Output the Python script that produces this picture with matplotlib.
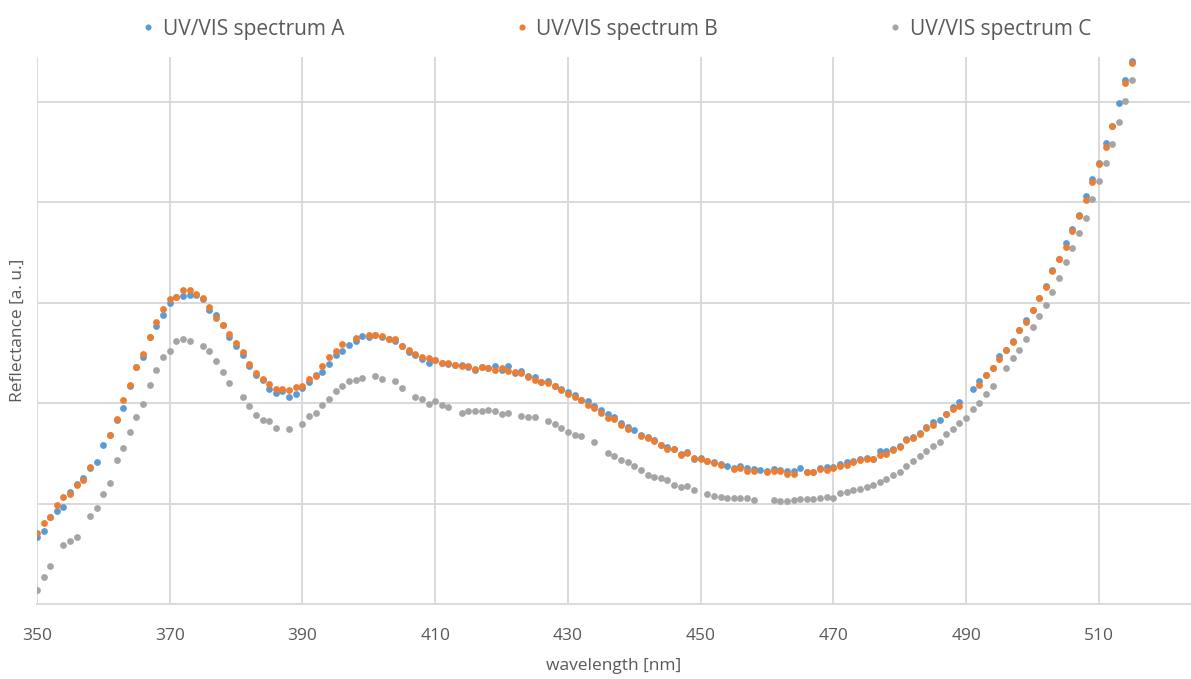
import numpy as np
import matplotlib.pyplot as plt

nan = np.nan
wavelength = np.arange(350, 516)

# spectrum A (blue)
spec_a = [0.67, 0.733, 0.87, 0.932, 0.972, 1.121, 1.197, 1.26, 1.353, 1.413,
          1.582, 1.688, 1.834, 1.95, 2.172, 2.361, 2.461, 2.66, 2.766, 2.882,
          2.995, 3.058, 3.071, 3.081, 3.08, 3.041, 2.925, 2.876, 2.776, 2.66,
          2.567, 2.478, 2.368, 2.279, 2.229, 2.146, 2.106, 2.12, 2.066, 2.096,
          2.15, 2.212, 2.28, 2.308, 2.391, 2.484, 2.524, 2.58, 2.62, 2.673,
          2.66, 2.68, 2.66, 2.634, 2.614, 2.57, 2.514, 2.475, 2.441, 2.401,
          2.43, 2.40, 2.388, 2.384, 2.38, 2.362, 2.335, 2.358, 2.35, 2.368,
          2.326, 2.368, 2.30, 2.32, 2.27, 2.265, 2.212, 2.225, 2.17, 2.14,
          2.11, 2.085, 2.036, 2.023, 1.97, 1.93, 1.897, 1.865, 1.80, 1.765,
          1.731, 1.68, 1.66, 1.63, 1.585, 1.56, 1.545, 1.49, 1.51, 1.446,
          1.46, 1.43, 1.416, 1.40, 1.376, 1.355, 1.375, 1.356, 1.343, 1.333,
          1.325, 1.343, 1.337, 1.327, 1.327, 1.353, 1.32, 1.32, 1.355, 1.366,
          1.366, 1.395, 1.42, 1.43, 1.443, 1.455, 1.45, 1.525, 1.522, 1.54,
          1.57, 1.648, 1.66, 1.70, 1.764, 1.81, 1.837, 1.895, 1.96, 2.013,
          nan, 2.139, 2.216, 2.285, 2.355, 2.468, 2.53, 2.615, 2.73, 2.832,
          2.93, 3.05, 3.167, 3.32, 3.435, 3.59, 3.735, 3.87, 4.063, 4.23,
          4.39, 4.59, 4.76, 4.982, 5.213, 5.406]

# spectrum B (orange)
spec_b = [0.71, 0.806, 0.869, 0.985, 1.068, 1.095, 1.191, 1.237, 1.37, nan,
          nan, 1.688, 1.844, 2.033, 2.18, 2.361, 2.494, 2.66, 2.809, 2.935,
          3.032, 3.058, 3.124, 3.124, 3.085, 3.05, 2.958, 2.852, 2.776, 2.693,
          2.60, 2.514, 2.388, 2.305, 2.239, 2.189, 2.139, 2.139, 2.129, 2.162,
          2.169, 2.242, 2.275, 2.371, 2.461, 2.517, 2.59, nan, 2.65, nan,
          2.68, 2.677, 2.673, 2.637, 2.637, 2.574, 2.534, 2.494, 2.461, 2.451,
          2.428, 2.401, 2.401, 2.381, 2.371, 2.368, 2.345, 2.358, 2.348, 2.335,
          2.351, 2.322, 2.315, 2.299, 2.265, 2.232, 2.212, 2.199, 2.169, 2.129,
          2.09, 2.066, 2.033, 1.987, 1.953, 1.904, 1.851, 1.841, 1.784, 1.748,
          nan, 1.675, 1.655, 1.625, 1.582, 1.542, 1.542, 1.486, 1.506, 1.459,
          1.45, 1.426, 1.41, 1.383, nan, 1.35, 1.357, 1.323, 1.323, nan,
          1.317, 1.323, 1.323, 1.30, 1.30, nan, 1.317, 1.317, 1.35, 1.34,
          1.357, 1.376, 1.383, 1.416, 1.433, 1.45, 1.447, 1.483, 1.499, 1.532,
          1.565, 1.632, 1.655, 1.698, 1.754, 1.788, nan, 1.891, 1.94, 1.973,
          nan, nan, 2.186, 2.279, 2.352, 2.435, 2.527, 2.61, 2.726, 2.809,
          2.925, 3.045, 3.157, 3.313, 3.43, 3.555, 3.715, 3.861, 4.02, 4.196,
          4.381, 4.55, 4.753, nan, 5.181, 5.38]

# spectrum C (grey)
spec_c = [0.146, 0.272, 0.385, nan, 0.587, 0.627, 0.67, nan, 0.879, 0.962,
          1.101, 1.207, 1.436, 1.552, 1.718, 1.864, 1.99, 2.182, 2.328, 2.464,
          2.517, 2.62, 2.643, 2.62, nan, 2.57, 2.517, 2.421, 2.315, 2.202,
          nan, 2.066, 1.97, 1.887, 1.831, 1.824, 1.751, nan, 1.741, nan,
          1.794, 1.877, 1.907, 1.98, 2.043, 2.119, 2.169, 2.216, 2.232, 2.252,
          nan, 2.275, 2.242, nan, 2.222, 2.149, nan, 2.063, 2.043, 1.997,
          2.023, 1.98, 1.96, nan, 1.904, 1.927, 1.927, 1.927, 1.937, 1.927,
          1.894, 1.907, nan, 1.874, 1.864, 1.864, nan, 1.824, 1.791, 1.758,
          1.715, 1.685, 1.672, nan, 1.615, nan, 1.506, 1.473, 1.433, 1.413,
          1.38, 1.34, 1.287, 1.267, 1.26, 1.237, 1.191, 1.167, 1.181, 1.134,
          nan, 1.098, 1.078, 1.068, 1.058, 1.058, 1.058, 1.058, 1.035, nan,
          nan, 1.035, 1.025, 1.025, 1.035, 1.051, 1.051, 1.051, 1.058, 1.068,
          1.058, 1.108, 1.118, 1.134, 1.148, 1.167, 1.191, 1.22, 1.25, 1.287,
          1.32, 1.38, 1.423, 1.476, 1.525, 1.579, 1.615, 1.698, 1.748, 1.804,
          1.857, 1.94, 2.003, 2.09, 2.169, nan, 2.348, 2.451, 2.534, 2.643,
          2.759, 2.872, 2.978, 3.104, 3.25, 3.406, 3.542, 3.692, 3.847, 4.027,
          4.206, 4.391, 4.574, 4.793, 5.002, 5.214]

labels = ['UV/VIS spectrum A', 'UV/VIS spectrum B', 'UV/VIS spectrum C']
colors = ['#5B9BD5', '#ED7D31', '#A5A5A5']

plt.rcParams['font.family'] = ['Open Sans', 'DejaVu Sans']
text_col = '#595959'

fig = plt.figure(figsize=(11.91, 6.79), dpi=100)
ax = fig.add_axes([0.031, 0.110, 0.968, 0.806])

for y, lab, c in zip([spec_a, spec_b, spec_c], labels, colors):
    ax.plot(wavelength, y, 'o', color=c, ms=4.9, mec='none', label=lab, zorder=3)

ax.set_xlim(350, 523.7)
ax.set_ylim(0, 5.443)
ax.set_xticks(np.arange(350, 511, 20))
ax.set_yticks([1, 2, 3, 4, 5])
ax.tick_params(axis='y', left=False, labelleft=False)
ax.tick_params(axis='x', length=0, pad=17, labelsize=12.5, labelcolor=text_col)
ax.grid(True, color='#D9D9D9', linewidth=1.4)
ax.set_axisbelow(True)
for s in ['top', 'right', 'left']:
    ax.spines[s].set_visible(False)
ax.spines['bottom'].set_color('#D9D9D9')
ax.spines['bottom'].set_linewidth(1.4)

ax.set_xlabel('wavelength [nm]', fontsize=12.5, color=text_col, labelpad=10)
ax.set_ylabel('Reflectance [a. u.]', fontsize=12.5, color=text_col, labelpad=8)

fig.legend(loc='upper center', bbox_to_anchor=(0.516, 1.0), ncol=3, frameon=False,
           fontsize=15, labelcolor=text_col, handlelength=1.0, handletextpad=0.2,
           columnspacing=8.0, markerscale=0.9)

fig.savefig('out.png', dpi=100)
